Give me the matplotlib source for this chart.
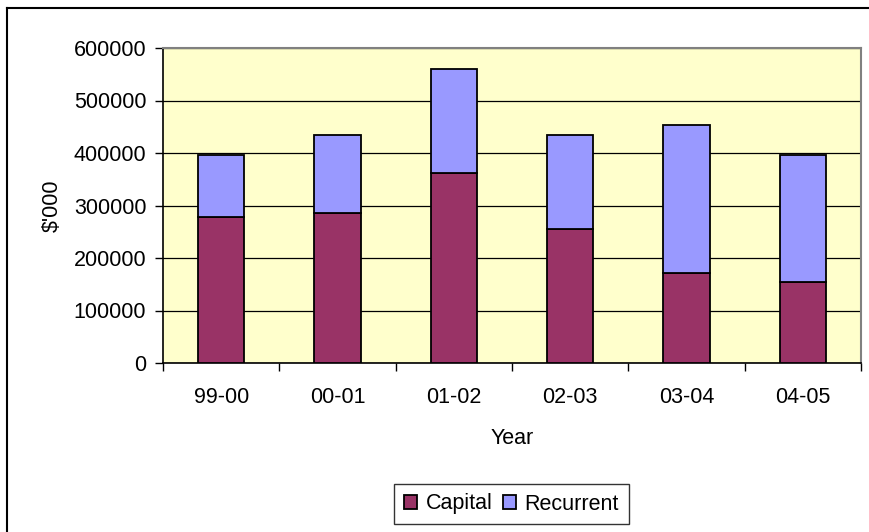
import matplotlib
matplotlib.use("Agg")
import matplotlib.pyplot as plt
import numpy as np
from matplotlib.lines import Line2D

years = ["99-00", "00-01", "01-02", "02-03", "03-04", "04-05"]
capital = [278000, 286000, 362000, 255000, 171000, 155000]
recurrent = [118000, 148000, 198000, 179000, 283000, 241000]
y_ticks = [0, 100000, 200000, 300000, 400000, 500000, 600000]

plt.rcParams['font.family'] = ['Liberation Sans', 'DejaVu Sans']

W, H = 869, 532
FS = 15.5
fig = plt.figure(figsize=(W / 100, H / 100), dpi=100)
ax = fig.add_axes([163 / W, 1 - 363 / H, (861 - 163) / W, (363 - 48) / H])
ax.set_facecolor("#FFFFCC")

x = np.arange(len(years))
ax.bar(x, capital, width=0.4, color="#993366", edgecolor="black", linewidth=1.3, label="Capital", zorder=3)
ax.bar(x, recurrent, width=0.4, bottom=capital, color="#9999FF", edgecolor="black", linewidth=1.3, label="Recurrent", zorder=3)

ax.set_xlim(-0.5, len(years) - 0.5)
ax.set_ylim(0, 600000)
ax.set_yticks(y_ticks)
ax.set_yticklabels([str(v) for v in y_ticks])
ax.yaxis.grid(True, color="black", linewidth=0.9, zorder=1)
ax.set_axisbelow(True)

ax.set_xticks(x)
ax.set_xticklabels(years)
ax.set_xticks(np.arange(-0.5, len(years)), minor=True)
ax.tick_params(axis="x", which="major", length=0, pad=17, labelsize=FS)
ax.tick_params(axis="x", which="minor", length=6, width=1, direction="out")
ax.tick_params(axis="y", length=6, width=1, direction="out", labelsize=FS, pad=6)

for s in ["top", "right"]:
    ax.spines[s].set_color("#808080")
    ax.spines[s].set_linewidth(1.5)
for s in ["left", "bottom"]:
    ax.spines[s].set_color("black")
    ax.spines[s].set_linewidth(1.2)

ax.set_ylabel("$'000", fontsize=FS, labelpad=8)
ax.set_xlabel("Year", fontsize=FS, labelpad=15)

leg = ax.legend(loc="center", bbox_to_anchor=(511.5 / W, 1 - 504 / H), bbox_transform=fig.transFigure,
                ncol=2, fontsize=FS, frameon=True, fancybox=False, handlelength=0.6, handleheight=0.6,
                handletextpad=0.4, columnspacing=0.5, borderpad=0.45)
leg.get_frame().set_edgecolor("black")
leg.get_frame().set_linewidth(1.0)

# chart area border (left and top visible)
fig.add_artist(Line2D([7 / W, 7 / W], [0, 1 - 8 / H], transform=fig.transFigure, color="black", linewidth=1.5))
fig.add_artist(Line2D([7 / W, 1], [1 - 8 / H, 1 - 8 / H], transform=fig.transFigure, color="black", linewidth=1.5))

fig.savefig("out.png", dpi=100)
